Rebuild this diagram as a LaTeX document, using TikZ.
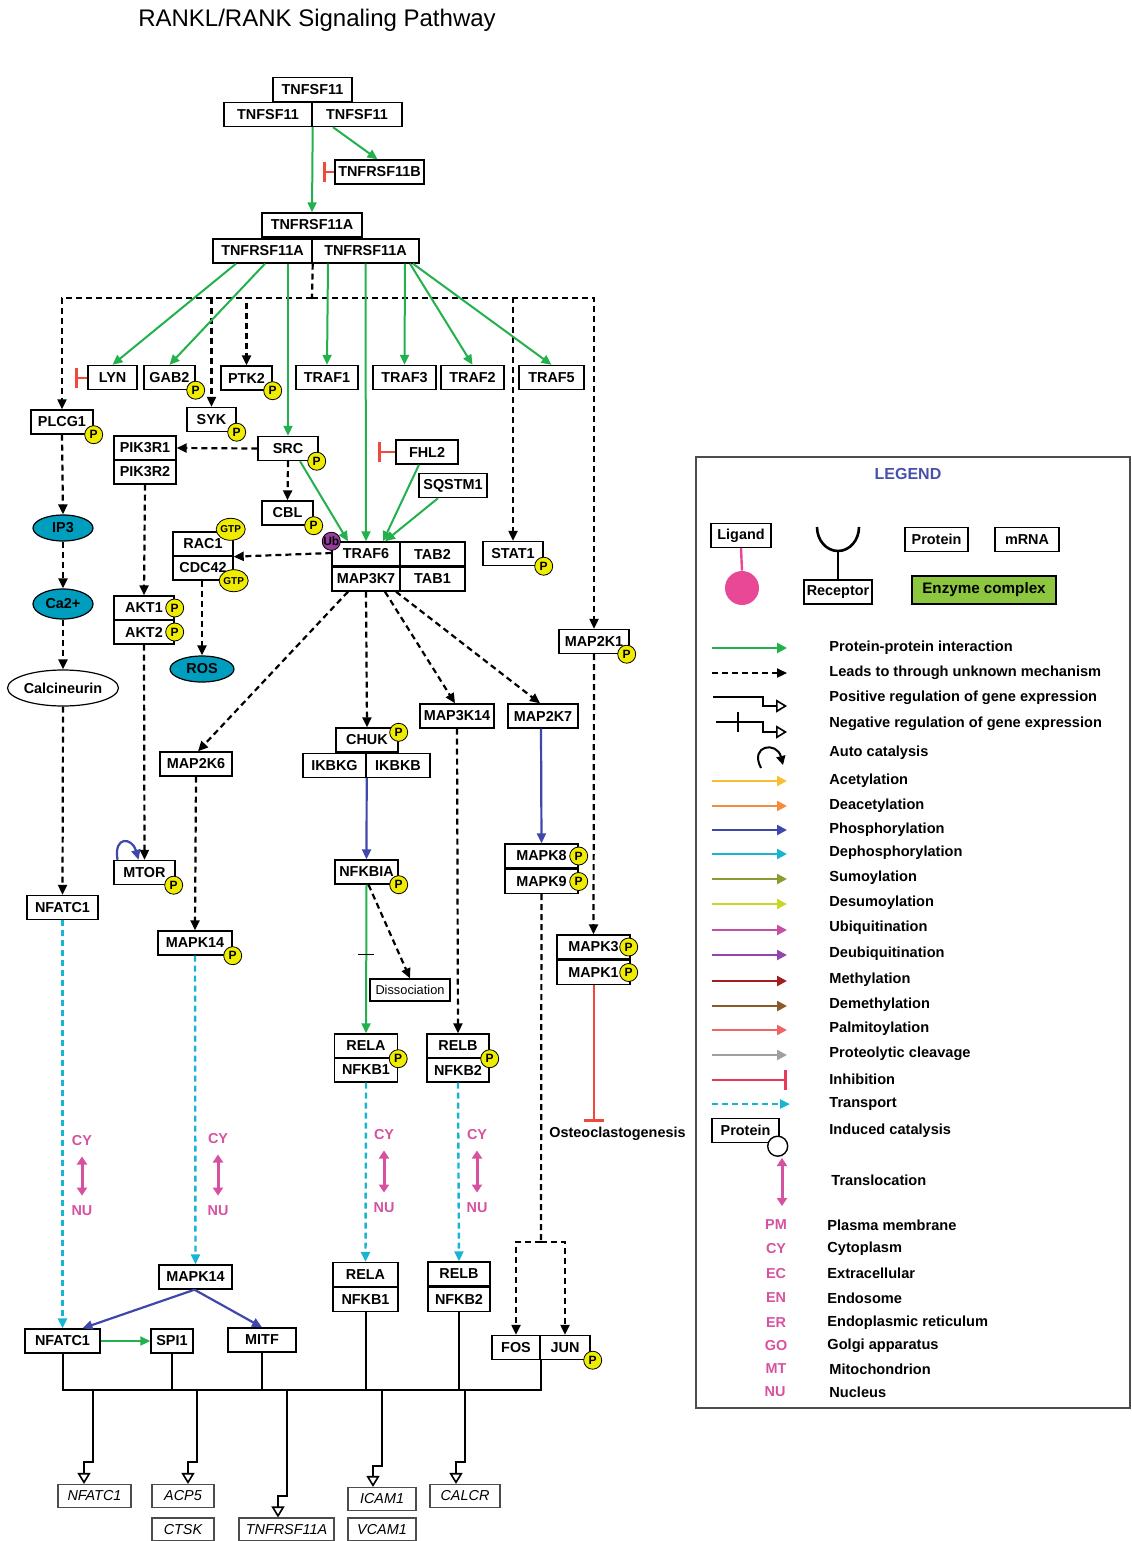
\documentclass[tikz,border=0pt]{standalone}
\usepackage{fontspec}
\setmainfont{Liberation Sans}
\usepackage{xcolor}
\usetikzlibrary{arrows.meta,shapes}

\definecolor{ppigreen}{RGB}{34,177,76}
\definecolor{phosblue}{RGB}{63,72,170}
\definecolor{transcyan}{RGB}{25,180,210}
\definecolor{inhred}{RGB}{240,72,60}
\definecolor{locpink}{RGB}{214,82,160}
\definecolor{padyellow}{RGB}{240,236,0}
\definecolor{ubpurple}{RGB}{150,60,160}
\definecolor{molcyan}{RGB}{0,158,190}
\definecolor{legblue}{RGB}{70,82,170}
\definecolor{enzgreen}{RGB}{141,198,63}
\definecolor{ligpink}{RGB}{232,72,150}
\definecolor{acetylc}{RGB}{250,190,50}
\definecolor{deacetylc}{RGB}{245,140,60}
\definecolor{sumoc}{RGB}{140,155,50}
\definecolor{desumoc}{RGB}{200,215,40}
\definecolor{ubiqc}{RGB}{195,80,165}
\definecolor{deubiqc}{RGB}{150,70,170}
\definecolor{methylc}{RGB}{160,30,30}
\definecolor{demethylc}{RGB}{140,90,40}
\definecolor{palmc}{RGB}{240,100,100}
\definecolor{proteoc}{RGB}{160,160,160}
\definecolor{leginh}{RGB}{235,55,90}

\newcommand{\pfont}{\fontsize{7.2}{8}\selectfont\bfseries}
\newcommand{\gfont}{\fontsize{7.2}{8}\selectfont\itshape}
\newcommand{\lfont}{\fontsize{7.3}{8}\selectfont\bfseries}
\newcommand{\badgefont}{\fontsize{6}{6}\selectfont\bfseries}
\newcommand{\gtpfont}{\fontsize{5}{5}\selectfont\bfseries}
\newcommand{\dfont}{\fontsize{6.4}{7}\selectfont}

% node, arrow xshift, jog height, bus height
\newcommand{\geneexpr}[4]{\draw[expr] ([xshift=#2+4.5pt,yshift=#4]#1.north) -- ([xshift=#2+4.5pt,yshift=#3]#1.north) -- ([xshift=#2,yshift=#3]#1.north) -- ([xshift=#2]#1.north);}

\begin{document}
\begin{tikzpicture}[x=0.5pt,y=0.5pt]
\tikzstyle{every node}+=[inner sep=0pt]
\tikzstyle{prot}=[draw=black, line width=0.7pt, fill=white, minimum height=12pt, font=\pfont]
\tikzstyle{gene}=[draw=black!70, line width=0.6pt, minimum height=11.5pt, font=\gfont]
\tikzstyle{molec}=[ellipse, draw=black, line width=0.6pt, fill=molcyan, font=\pfont]
\tikzstyle{pbadge}=[circle, draw=black, line width=0.4pt, fill=padyellow, minimum size=9pt, font=\badgefont]
\tikzstyle{gtp}=[ellipse, draw=black, line width=0.4pt, fill=padyellow, minimum width=13.5pt, minimum height=11pt, font=\gtpfont]
\tikzstyle{ppi}=[draw=ppigreen, line width=1pt, -{Triangle[length=5pt,width=4.5pt]}]
\tikzstyle{dline}=[draw=black, line width=1.1pt, dash pattern=on 3pt off 2pt]
\tikzstyle{unk}=[dline, -{Triangle[length=5pt,width=4.5pt]}]
\tikzstyle{phos}=[draw=phosblue, line width=1.1pt, -{Triangle[length=5pt,width=4.5pt]}]
\tikzstyle{trans}=[draw=transcyan, line width=1.2pt, dash pattern=on 3pt off 2pt, -{Triangle[length=5pt,width=4.5pt]}]
\tikzstyle{inh}=[draw=inhred, line width=1pt, -{Bar[width=10pt,line width=1.4pt]}]
\tikzstyle{reg}=[draw=black, line width=1pt]
\tikzstyle{expr}=[reg, -{Triangle[open,length=5.5pt,width=6.5pt,line width=0.8pt]}]
\tikzstyle{loc}=[text=locpink, font=\pfont]
\tikzstyle{transl}=[draw=locpink, line width=1.5pt, {Triangle[length=4pt,width=5pt]}-{Triangle[length=4pt,width=5pt]}]
\tikzstyle{lgtext}=[anchor=west, font=\lfont]
\tikzstyle{lgarrow}=[line width=1.2pt, -{Triangle[length=5pt,width=5pt]}]
\useasboundingbox (0,0) rectangle (1131,-1541);

\node[font=\fontsize{12}{14}\selectfont] (title) at (317,-20) {RANKL/RANK Signaling Pathway};

\node[prot,minimum width=39.5pt] (tnfsfT) at (312.5,-89.5) {TNFSF11};
\node[prot,minimum width=44pt] (tnfsfL) at (268,-114.5) {TNFSF11};
\node[prot,minimum width=45pt] (tnfsfR) at (357,-114.5) {TNFSF11};
\node[prot,minimum width=44.5pt] (opg) at (379.5,-172) {TNFRSF11B};
\node[prot,minimum width=50pt] (rankT) at (312,-225) {TNFRSF11A};
\node[prot,minimum width=49.5pt] (rankL) at (262.5,-251) {TNFRSF11A};
\node[prot,minimum width=53.5pt] (rankR) at (365.5,-251) {TNFRSF11A};

\node[prot,minimum width=24.5pt] (lyn) at (112.5,-377.5) {LYN};
\node[prot,minimum width=25.5pt] (gab2) at (169.5,-377.5) {GAB2};
\node[prot,minimum width=25.5pt] (ptk2) at (246.5,-378) {PTK2};
\node[prot,minimum width=31pt] (traf1) at (327,-377.5) {TRAF1};
\node[prot,minimum width=31.5pt] (traf3) at (404.5,-377.5) {TRAF3};
\node[prot,minimum width=31.5pt] (traf2) at (472.5,-377.5) {TRAF2};
\node[prot,minimum width=32.5pt] (traf5) at (551.5,-377.5) {TRAF5};

\node[prot,minimum width=31pt] (plcg1) at (62,-422) {PLCG1};
\node[prot,minimum width=24.5pt] (syk) at (211.5,-419.5) {SYK};
\node[prot,minimum width=30pt] (src) at (288,-448.5) {SRC};
\node[prot,minimum width=31pt] (pik3r1) at (145,-448) {PIK3R1};
\node[prot,minimum width=31pt] (pik3r2) at (145,-472) {PIK3R2};
\node[prot,minimum width=31pt] (fhl2) at (427,-452) {FHL2};
\node[prot,minimum width=34pt] (sqstm1) at (453,-485.5) {SQSTM1};
\node[prot,minimum width=25.5pt] (cbl) at (287.5,-513) {CBL};
\node[prot,minimum width=34pt] (traf6) at (366,-554) {TRAF6};
\node[prot,minimum width=32.5pt] (tab2) at (432.5,-554) {TAB2};
\node[prot,minimum width=34pt] (map3k7) at (366,-579) {MAP3K7};
\node[prot,minimum width=32.5pt] (tab1) at (432.5,-579) {TAB1};
\node[prot,minimum width=30pt] (rac1) at (203,-544) {RAC1};
\node[prot,minimum width=30pt] (cdc42) at (203,-568) {CDC42};
\node[prot,minimum width=30pt] (stat1) at (513,-553.5) {STAT1};

\node[molec,minimum width=30pt,minimum height=13pt] (ip3) at (63,-528) {IP3};
\node[molec,minimum width=30pt,minimum height=15pt] (ca) at (63,-604) {Ca2+};
\node[molec,fill=white,minimum width=52pt,minimum height=18pt] (calc) at (63,-688) {Calcineurin};
\node[prot,minimum width=30pt] (akt1) at (144,-608) {AKT1};
\node[prot,minimum width=30pt] (akt2) at (144,-632) {AKT2};
\node[molec,minimum width=32pt,minimum height=13pt] (ros) at (202,-669) {ROS};
\node[prot,minimum width=35pt] (map2k1) at (594,-641.5) {MAP2K1};

\node[prot,minimum width=36pt] (map2k6) at (196,-764) {MAP2K6};
\node[prot,minimum width=31pt] (chuk) at (367,-740) {CHUK};
\node[prot,minimum width=31.5pt] (ikbkg) at (334.5,-765.5) {IKBKG};
\node[prot,minimum width=32pt] (ikbkb) at (398,-765.5) {IKBKB};
\node[prot,minimum width=37pt] (map3k14) at (457,-716) {MAP3K14};
\node[prot,minimum width=35pt] (map2k7) at (543,-716) {MAP2K7};

\node[prot,minimum width=35.5pt] (nfatc1) at (62.5,-907.5) {NFATC1};
\node[prot,minimum width=30.5pt] (mtor) at (144.5,-872.5) {MTOR};
\node[prot,minimum width=37pt] (mapk14) at (195,-943) {MAPK14};
\node[prot,minimum width=31.5pt] (nfkbia) at (366.5,-872) {NFKBIA};
\node[prot,minimum width=36.5pt] (mapk8) at (541.5,-856) {MAPK8};
\node[prot,minimum width=36.5pt] (mapk9) at (541.5,-881.5) {MAPK9};
\node[prot,minimum width=36.5pt] (mapk3) at (593.5,-947) {MAPK3};
\node[prot,minimum width=36.5pt] (mapk1) at (593.5,-972.5) {MAPK1};
\node[draw=black, line width=0.6pt, minimum width=40pt, minimum height=11pt, font=\dfont] (dissoc) at (410,-990) {Dissociation};
\node[prot,minimum width=31.5pt] (rela) at (366,-1046) {RELA};
\node[prot,minimum width=31.5pt] (nfkb1) at (366,-1070) {NFKB1};
\node[prot,minimum width=31pt] (relb) at (458,-1046) {RELB};
\node[prot,minimum width=31pt] (nfkb2) at (458,-1070) {NFKB2};
\node[font=\pfont] (osteo) at (617.5,-1134) {Osteoclastogenesis};

\node[prot,minimum width=36.5pt] (mapk14b) at (195.5,-1277) {MAPK14};
\node[prot,minimum width=32.5pt] (relab) at (365.5,-1274.5) {RELA};
\node[prot,minimum width=32.5pt] (nfkb1b) at (365.5,-1299.5) {NFKB1};
\node[prot,minimum width=31pt] (relbb) at (459,-1274) {RELB};
\node[prot,minimum width=31pt] (nfkb2b) at (459,-1299.5) {NFKB2};
\node[prot,minimum width=37.5pt] (nfatc1b) at (62.5,-1341) {NFATC1};
\node[prot,minimum width=21pt] (spi1) at (172,-1341) {SPI1};
\node[prot,minimum width=34pt] (mitf) at (262,-1340) {MITF};
\node[prot,minimum width=24pt] (fos) at (516,-1347.5) {FOS};
\node[prot,minimum width=25pt] (jun) at (565,-1347.5) {JUN};

\node[gene,minimum width=36.5pt] (gnfatc1) at (94.5,-1496) {NFATC1};
\node[gene,minimum width=31pt] (gacp5) at (183,-1496) {ACP5};
\node[gene,minimum width=31pt] (gctsk) at (183,-1529.5) {CTSK};
\node[gene,minimum width=47.5pt] (gtnfrsf) at (286.5,-1529.5) {TNFRSF11A};
\node[gene,minimum width=34pt] (gicam) at (382,-1499) {ICAM1};
\node[gene,minimum width=34pt] (gvcam) at (382,-1529.5) {VCAM1};
\node[gene,minimum width=35pt] (gcalcr) at (465,-1496) {CALCR};

\draw[ppi] (tnfsfL.south east) -- (rankT.north);
\draw[ppi] ([xshift=-12pt]tnfsfR.south) -- ([xshift=-1pt]opg.north);
\coordinate (opgbar) at (323,-172);
\draw[inh] (opg.west) -- (opgbar);

\coordinate (hub) at (312,-298);
\draw[dline] (rankL.south east) -- (hub);
\draw[unk] (hub) -| (plcg1.north);
\draw[unk] (hub) -| (syk.north);
\draw[unk] (hub) -| (ptk2.north);
\draw[unk] (hub) -| (stat1.north);
\draw[unk] (hub) -| (map2k1.north);

\draw[ppi] ([xshift=-13.25pt]rankL.south) -- (lyn.north);
\draw[ppi] ([xshift=1.25pt]rankL.south) -- (gab2.north);
\draw[ppi] ([xshift=12.75pt]rankL.south) -- (src.north);
\draw[ppi] ([xshift=-18.75pt]rankR.south) -- (traf1.north);
\draw[ppi] (rankR.south) -- (traf6.north);
\draw[ppi] ([xshift=19.75pt]rankR.south) -- (traf3.north);
\draw[ppi] ([xshift=22.25pt]rankR.south) -- (traf2.north);
\draw[ppi] ([xshift=23.75pt]rankR.south) -- (traf5.north);
\coordinate (lynbar) at (75,-377.5);
\draw[inh] (lyn.west) -- (lynbar);

\draw[unk] (src.west) -- (pik3r1.east);
\draw[unk] (src.south) -- (cbl.north);
\draw[ppi] ([xshift=6pt]src.south) -- ([xshift=-9pt]traf6.north);
\draw[ppi] ([xshift=-4pt]fhl2.south) -- ([xshift=8.5pt]traf6.north);
\draw[ppi] ([xshift=-7.5pt]sqstm1.south) -- ([xshift=9.5pt]traf6.north);
\coordinate (fhlbar) at (378,-452);
\draw[inh] (fhl2.west) -- (fhlbar);
\draw[unk] ([yshift=0.5pt]traf6.west) -- (rac1.south east);

\draw[unk] (plcg1.south) -- (ip3.north);
\draw[unk] (ip3.south) -- (ca.north);
\draw[unk] (ca.south) -- (calc.north);
\draw[unk] (calc.south) -- (nfatc1.north);
\draw[unk] (pik3r2.south) -- (akt1.north);
\draw[unk] (akt2.south) -- (mtor.north);
\draw[phos] ([xshift=-13.5pt]mtor.north) .. controls +(-4,25) and +(-6,22) .. ([xshift=-3pt]mtor.north);
\draw[unk] ([xshift=-0.5pt]cdc42.south) -- (ros.north);
\draw[unk] (map2k1.south) -- (mapk3.north);

\draw[unk] ([xshift=-9pt]map3k7.south) -- ([xshift=1pt]map2k6.north);
\draw[unk] (map3k7.south) -- (chuk.north);
\draw[unk] ([xshift=9.5pt]map3k7.south) -- ([xshift=-1pt]map3k14.north);
\draw[unk] ([xshift=15pt]map3k7.south) -- ([xshift=-1.5pt]map2k7.north);
\draw[unk] (map2k6.south) -- (mapk14.north);
\draw[phos] (ikbkg.south east) -- (nfkbia.north);
\draw[phos] ([xshift=-1pt]map2k7.south) -- (mapk8.north);
\draw[ppi] (nfkbia.south) -- coordinate[pos=0.47] (nftick) (rela.north);
\draw[reg, line width=0.8pt] ([xshift=-4pt]nftick) -- ([xshift=4pt]nftick);
\draw[unk] ([xshift=1pt]nfkbia.south) -- (dissoc.north);
\draw[unk] (map3k14.south) -- (relb.north);
\coordinate (osteobar) at (593.5,-1122);
\draw[inh] (mapk1.south) -- (osteobar);
\coordinate (apsplit) at (541,-1242);
\draw[dline] (mapk9.south) -- (apsplit);
\draw[unk] (apsplit) -| (fos.north);
\draw[unk] (apsplit) -| (jun.north);

\draw[trans] (nfatc1.south) -- (nfatc1b.north);
\draw[trans] (mapk14.south) -- (mapk14b.north);
\draw[trans] (nfkb1.south) -- (relab.north);
\draw[trans] (nfkb2.south) -- (relbb.north);

\node[loc] (cy1) at (82,-1141) {CY};
\node[loc] (nu1) at (82,-1211) {NU};
\node[loc] (cy2) at (218,-1139) {CY};
\node[loc] (nu2) at (218,-1211) {NU};
\node[loc] (cy3) at (384,-1135) {CY};
\node[loc] (nu3) at (384,-1208) {NU};
\node[loc] (cy4) at (477,-1135) {CY};
\node[loc] (nu4) at (477,-1208) {NU};
\draw[transl] ([yshift=-5pt]cy1.south) -- ([yshift=5pt]nu1.north);
\draw[transl] ([yshift=-5pt]cy2.south) -- ([yshift=5pt]nu2.north);
\draw[transl] ([yshift=-5pt]cy3.south) -- ([yshift=5pt]nu3.north);
\draw[transl] ([yshift=-5pt]cy4.south) -- ([yshift=5pt]nu4.north);

\draw[phos] ([xshift=-0.5pt]mapk14b.south) -- ([xshift=10pt]nfatc1b.north);
\draw[phos] ([xshift=-0.5pt]mapk14b.south) -- (mitf.north);
\draw[ppi] (nfatc1b.east) -- (spi1.west);

\coordinate (bus) at (0,-1390);
\draw[reg] (nfatc1b.south) |- (fos.south east |- bus) -- (fos.south east);
\draw[reg] (spi1.south) -- (spi1.south |- bus);
\draw[reg] (mitf.south) -- (mitf.south |- bus);
\draw[reg] (nfkb1b.south) -- (nfkb1b.south |- bus);
\draw[reg] (nfkb2b.south) -- (nfkb2b.south |- bus);
\geneexpr{gnfatc1}{-5.25pt}{11pt}{47pt}
\geneexpr{gacp5}{2.5pt}{11pt}{47pt}
\geneexpr{gtnfrsf}{-4.25pt}{10.5pt}{64pt}
\geneexpr{gicam}{-4.5pt}{10.5pt}{48.5pt}
\geneexpr{gcalcr}{-4.5pt}{11pt}{47pt}

\node[pbadge] (pgab2) at (gab2.south east) {P};
\node[pbadge] (pptk2) at (ptk2.south east) {P};
\node[pbadge] (pplcg1) at (plcg1.south east) {P};
\node[pbadge] (psyk) at (syk.south east) {P};
\node[pbadge] (psrc) at ([xshift=-1pt]src.south east) {P};
\node[pbadge] (pcbl) at (cbl.south east) {P};
\node[pbadge] (pstat1) at (stat1.south east) {P};
\node[pbadge] (pakt1) at (akt1.east) {P};
\node[pbadge] (pakt2) at (akt2.east) {P};
\node[pbadge] (pmap2k1) at ([xshift=-1.5pt]map2k1.south east) {P};
\node[pbadge] (pchuk) at ([yshift=-2.5pt]chuk.north east) {P};
\node[pbadge] (pmtor) at ([xshift=-1pt]mtor.south east) {P};
\node[pbadge] (pmapk14) at (mapk14.south east) {P};
\node[pbadge] (pnfkbia) at (nfkbia.south east) {P};
\node[pbadge] (pmapk8) at (mapk8.east) {P};
\node[pbadge] (pmapk9) at (mapk9.east) {P};
\node[pbadge] (pmapk3) at ([xshift=-1pt]mapk3.east) {P};
\node[pbadge] (pmapk1) at ([xshift=-1pt]mapk1.east) {P};
\node[pbadge] (prela) at (rela.south east) {P};
\node[pbadge] (prelb) at (relb.south east) {P};
\node[pbadge] (pjun) at ([xshift=1pt]jun.south east) {P};
\node[gtp] (grac1) at ([xshift=-1.5pt,yshift=1pt]rac1.north east) {GTP};
\node[gtp] (gcdc42) at (cdc42.south east) {GTP};
\node[circle, draw=black, line width=0.4pt, fill=ubpurple, minimum size=9pt, font=\badgefont] (ub) at (traf6.north west) {Ub};

\draw[black!70, line width=0.8pt] (696,-457) rectangle (1130,-1408);
\node[font=\fontsize{8}{9}\selectfont\bfseries, text=legblue] (lgtitle) at (908,-474) {LEGEND};
\node[prot,minimum width=30pt] (lgligand) at (741,-535.5) {Ligand};
\node[circle, fill=ligpink, minimum size=17pt] (lgball) at (742,-588) {};
\draw[ligpink, line width=1.2pt] (lgligand.south) -- (lgball.north);
\node[prot,minimum width=34pt] (lgreceptor) at (838,-592) {Receptor};
\coordinate (lgcup) at (838,-551);
\draw[line width=1.3pt] (lgreceptor.north) -- (lgcup);
\draw[line width=1.3pt] (817,-527) arc (180:360:10.5pt and 12pt);
\node[prot,minimum width=31.5pt] (lgprotein) at (936.5,-539.5) {Protein};
\node[prot,minimum width=32pt] (lgmrna) at (1027,-539.5) {mRNA};
\node[prot,fill=enzgreen,minimum width=72pt,minimum height=14pt,font=\fontsize{7.6}{8}\selectfont\bfseries] (lgenzyme) at (984,-590) {Enzyme complex};

\draw[lgarrow, draw=ppigreen] (712,-648) -- (787,-648);
\node[lgtext] at (829,-648) {Protein-protein interaction};
\draw[unk] (712,-673) -- (787,-673);
\node[lgtext] at (829,-673) {Leads to through unknown mechanism};
\draw[expr] (713,-697) -- (763,-697) -- (763,-706) -- (787,-706);
\node[lgtext] at (829,-698) {Positive regulation of gene expression};
\draw[expr] (716,-722) -- (763,-722) -- (763,-732) -- (787,-732);
\draw[reg] (738,-712) -- (738,-732);
\node[lgtext] at (829,-724) {Negative regulation of gene expression};
\draw[reg, -{Triangle[length=4.5pt,width=4.5pt]}] (761,-768) .. controls (749,-745) and (777,-741) .. (783,-765);
\node[lgtext] at (829,-753) {Auto catalysis};
\draw[lgarrow, draw=acetylc] (712,-781) -- (787,-781);
\node[lgtext] at (829,-781) {Acetylation};
\draw[lgarrow, draw=deacetylc] (712,-806) -- (787,-806);
\node[lgtext] at (829,-806) {Deacetylation};
\draw[lgarrow, draw=phosblue] (712,-830) -- (787,-830);
\node[lgtext] at (829,-830) {Phosphorylation};
\draw[lgarrow, draw=transcyan] (712,-854) -- (787,-854);
\node[lgtext] at (829,-853) {Dephosphorylation};
\draw[lgarrow, draw=sumoc] (712,-879) -- (787,-879);
\node[lgtext] at (829,-878) {Sumoylation};
\draw[lgarrow, draw=desumoc] (712,-904) -- (787,-904);
\node[lgtext] at (829,-903) {Desumoylation};
\draw[lgarrow, draw=ubiqc] (712,-930) -- (787,-930);
\node[lgtext] at (829,-928) {Ubiquitination};
\draw[lgarrow, draw=deubiqc] (712,-955) -- (787,-955);
\node[lgtext] at (829,-954) {Deubiquitination};
\draw[lgarrow, draw=methylc] (712,-981) -- (787,-981);
\node[lgtext] at (829,-980) {Methylation};
\draw[lgarrow, draw=demethylc] (712,-1006) -- (787,-1006);
\node[lgtext] at (829,-1005) {Demethylation};
\draw[lgarrow, draw=palmc] (712,-1030) -- (787,-1030);
\node[lgtext] at (829,-1029) {Palmitoylation};
\draw[lgarrow, draw=proteoc] (712,-1055) -- (787,-1055);
\node[lgtext] at (829,-1054) {Proteolytic cleavage};
\draw[draw=leginh, line width=1.2pt, -{Bar[width=10pt,line width=1.5pt]}] (712,-1080) -- (787,-1080);
\node[lgtext] at (829,-1079) {Inhibition};
\draw[trans] (712,-1104) -- (790,-1104);
\node[lgtext] at (829,-1104) {Transport};
\node[prot,minimum width=33.5pt] (lgcat) at (745.5,-1130.5) {Protein};
\node[circle, draw=black, line width=0.7pt, fill=white, minimum size=10pt] (lgcatc) at ([xshift=-1pt,yshift=-1.5pt]lgcat.south east) {};
\node[lgtext] at (829,-1131) {Induced catalysis};
\draw[transl] (782,-1158) -- (782,-1206);
\node[lgtext] at (831,-1180) {Translocation};
\node[loc] at (776,-1225) {PM};
\node[lgtext] at (827,-1225) {Plasma membrane};
\node[loc] at (776,-1249) {CY};
\node[lgtext] at (827,-1249) {Cytoplasm};
\node[loc] at (776,-1274) {EC};
\node[lgtext] at (827,-1273) {Extracellular};
\node[loc] at (776,-1298) {EN};
\node[lgtext] at (827,-1298) {Endosome};
\node[loc] at (776,-1323) {ER};
\node[lgtext] at (827,-1323) {Endoplasmic reticulum};
\node[loc] at (776,-1346) {GO};
\node[lgtext] at (827,-1346) {Golgi apparatus};
\node[loc] at (776,-1369) {MT};
\node[lgtext] at (829,-1369) {Mitochondrion};
\node[loc] at (775,-1392) {NU};
\node[lgtext] at (829,-1392) {Nucleus};
\end{tikzpicture}
\end{document}
